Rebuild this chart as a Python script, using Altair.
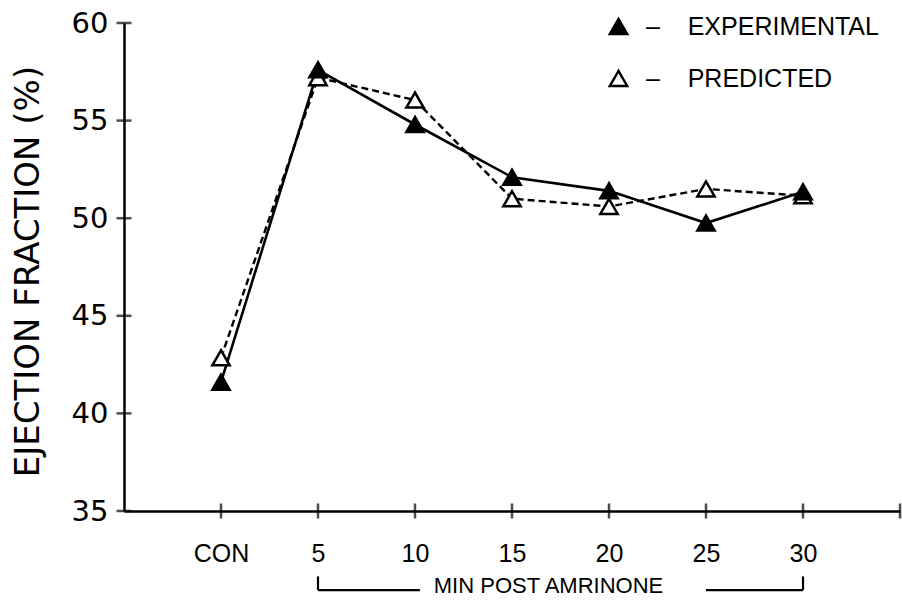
import altair as alt
import pandas as pd

# ---- data ----
categories = ["CON", "5", "10", "15", "20", "25", "30"]
experimental = [41.6, 57.6, 54.8, 52.1, 51.4, 49.75, 51.35]
predicted = [42.85, 57.2, 56.05, 51.0, 50.6, 51.5, 51.15]
series_names = ["EXPERIMENTAL", "PREDICTED"]

y_tick_values = [35, 40, 45, 50, 55, 60]
x_tick_positions = [0, 1, 2, 3, 4, 5, 6, 7]

# bracket under the axis ("MIN POST AMRINONE"), in data units
bracket_x = [1, 5, 1, 6]
bracket_x2 = [2.05, 6, 1, 6]
bracket_y = [30.95, 30.95, 31.65, 31.65]
bracket_y2 = [30.95, 30.95, 30.95, 30.95]

rows = []
for i, v in enumerate(predicted):
    rows.append({"idx": i, "value": v, "series": "PREDICTED"})
for i, v in enumerate(experimental):
    rows.append({"idx": i, "value": v, "series": "EXPERIMENTAL"})
df = pd.DataFrame(rows)

ytick_df = pd.DataFrame({"value": y_tick_values})
xtick_df = pd.DataFrame({"idx": x_tick_positions})
bracket_df = pd.DataFrame({"idx": bracket_x, "idx2": bracket_x2,
                           "value": bracket_y, "value2": bracket_y2})

label_expr = "[" + ",".join("'%s'" % c for c in categories) + "][datum.value]"

xscale = alt.Scale(domain=[-1, 7], nice=False, zero=False)
yscale = alt.Scale(domain=[35, 60], nice=False, zero=False)

xaxis = alt.Axis(
    values=list(range(len(categories))), labelExpr=label_expr, ticks=False, grid=False,
    domainColor="black", domainWidth=2.5, labelFont="Liberation Sans", labelFontSize=25,
    labelColor="black", labelPadding=30, labelFlush=False, labelOverlap=False,
    title="MIN POST AMRINONE", titleFont="Liberation Sans", titleFontSize=22,
    titleFontWeight="normal", titleColor="black", titleX=424, titleY=74,
    titleBaseline="middle", titleAlign="center",
)
yaxis = alt.Axis(
    values=y_tick_values, ticks=False, grid=False, domainColor="black", domainWidth=2.5,
    labelFont="DejaVu Sans", labelFontSize=29, labelColor="black", labelPadding=16,
    labelFlush=False, labelOverlap=False,
    title="EJECTION FRACTION (%)", titleFont="DejaVu Sans", titleFontSize=34,
    titleFontWeight="normal", titleColor="black", titleAngle=270, titleX=-86, titleY=248,
    titleBaseline="alphabetic", titleAlign="center",
)

xenc = alt.X("idx:Q", scale=xscale, axis=xaxis)
yenc = alt.Y("value:Q", scale=yscale, axis=yaxis)

line_exp = alt.Chart(df).transform_filter(alt.datum.series == "EXPERIMENTAL").mark_line(
    color="black", strokeWidth=2.6
).encode(x=xenc, y=yenc, order=alt.Order("idx:Q"))

line_pred = alt.Chart(df).transform_filter(alt.datum.series == "PREDICTED").mark_line(
    color="black", strokeWidth=2.4, strokeDash=[7, 4]
).encode(x=xenc, y=yenc, order=alt.Order("idx:Q"))

points = alt.Chart(df).mark_point(
    shape="triangle-up", filled=True, size=300, stroke="black", strokeWidth=2.5, opacity=1
).encode(
    x=xenc, y=yenc,
    fill=alt.Fill(
        "series:N",
        scale=alt.Scale(domain=series_names, range=["black", "white"]),
        legend=alt.Legend(
            orient="none", legendX=482, legendY=-9, title=None,
            labelFont="Liberation Sans", labelFontSize=25, labelColor="black",
            labelLimit=500,
            labelExpr="'\u2013\u00a0\u00a0\u00a0\u00a0' + datum.label",
            symbolType="triangle-up", symbolSize=300, symbolStrokeColor="black",
            symbolStrokeWidth=2.5, rowPadding=26, labelOffset=15, padding=0,
        ),
    ),
)

yticks = alt.Chart(ytick_df).mark_tick(orient="horizontal", size=15, thickness=2.5, color="black").encode(
    y=yenc, x=alt.datum(-1, scale=xscale)
)
xticks = alt.Chart(xtick_df).mark_tick(orient="vertical", size=15, thickness=2.5, color="black").encode(
    x=xenc, y=alt.datum(35, scale=yscale)
)

bracket = alt.Chart(bracket_df).mark_rule(color="black", strokeWidth=2.2).encode(
    x=xenc, x2="idx2:Q", y=yenc, y2="value2:Q"
)

chart = alt.layer(line_pred, line_exp, bracket, yticks, xticks, points).properties(
    width=776, height=488,
    autosize=alt.AutoSizeParams(type="none"),
    padding={"left": 124, "top": 23, "right": 2, "bottom": 93},
    background="white",
).configure_view(strokeWidth=0)

chart.save("out.html", embed_options={"renderer": "svg", "actions": False})
